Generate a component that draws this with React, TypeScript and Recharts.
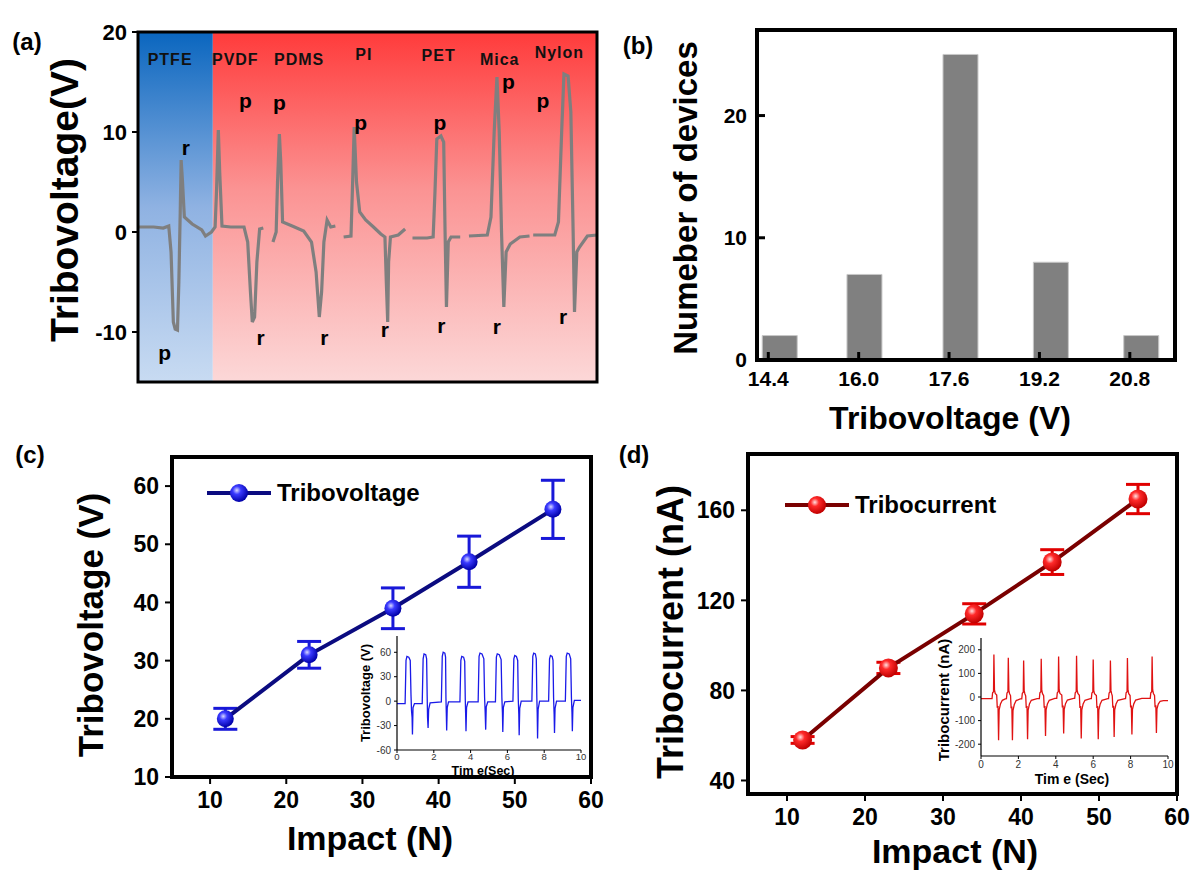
import React from 'react';
import {
  ComposedChart, LineChart, BarChart, Line, Bar, XAxis, YAxis,
  ReferenceArea, ReferenceDot, ErrorBar
} from 'recharts';

const FONT = 'Arial, "Liberation Sans", Helvetica, sans-serif';

// (a) voltage traces per material, [time, volts], null = break between materials
const traceA: [number, number | null][] = [
  [0, 0.5], [3.4, 0.5], [5.5, 0.4], [6.7, 0.6], [7.2, -2], [7.7, -9.0], [8.1, -9.7], [8.6, -9.8],
  [8.9, -5], [9.2, 2], [9.4, 7.2], [9.7, 5], [10.1, 1.5], [11.8, 0.8], [13.9, 0.2], [14.7, -0.4],
  [16.0, 0.0], [16.8, 0.5], [17.1, 4], [17.5, 10.2], [17.8, 6], [18.3, 0.6], [20.2, 0.5], [23.1, 0.5],
  [23.9, -1], [24.5, -6], [24.9, -9.0], [25.4, -8.5], [25.9, -3], [26.5, 0.3], [27.3, 0.4],
  [28.3, null],
  [29.4, -1.0], [30.1, 0], [30.4, 5], [30.8, 9.8], [31.1, 7], [31.5, 1], [33.6, 0.6], [36.1, 0.1],
  [37.8, -1], [38.8, -4], [39.5, -8.5], [40.0, -6], [40.5, -1], [41.2, 1.2], [42.0, 0.5], [43.0, 0.6],
  [43.9, null],
  [44.8, -0.5], [46.4, -0.4], [46.7, 4], [47.1, 10.5], [47.6, 5], [48.3, 2], [49.6, 1.2], [51.3, 0.5],
  [52.9, -0.2], [53.8, -0.5], [54.1, -5], [54.4, -9.0], [54.6, -3], [55.0, -0.5], [56.7, -0.3], [58.2, 0.3],
  [59.0, null],
  [59.8, -0.6], [63.0, -0.6], [64.3, -0.5], [64.7, 4], [65.1, 9.3], [66.0, 9.6], [66.6, 9.0], [66.9, 0],
  [67.2, -7.5], [67.6, -1], [68.2, -0.5], [70.2, -0.5],
  [71.2, null],
  [72.1, -0.4], [76.1, -0.3], [76.9, 1.5], [77.6, 10], [78.2, 15.5], [78.7, 10], [79.2, 0], [79.7, -7.5],
  [80.2, -2], [81.1, -1.2], [83.2, -0.5], [85.3, -0.4],
  [85.7, null],
  [86.1, -0.3], [90.8, -0.3], [91.6, 1], [92.3, 10], [92.8, 15.8], [93.7, 15.6], [94.3, 12], [94.8, 0],
  [95.1, -8], [95.6, -2], [96.2, -1.5], [97.9, -0.4], [100, -0.3],
];
const materials = ['PTFE', 'PVDF', 'PDMS', 'PI', 'PET', 'Mica', 'Nylon'];
const materialPos: [number, number][] = [[7.0, 17.3], [21.2, 17.3], [35.1, 17.3], [49.2, 17.8], [65.5, 17.7], [78.8, 17.3], [91.8, 18.0]];
const peakLabels: [string, number, number][] = [
  ['r', 10.4, 8.4], ['p', 5.8, -12.1],
  ['p', 23.4, 13.1], ['r', 26.7, -10.6],
  ['p', 30.8, 12.9], ['r', 40.6, -10.6],
  ['p', 48.5, 10.9], ['r', 53.8, -9.8],
  ['p', 65.8, 10.9], ['r', 66.1, -9.4],
  ['p', 80.7, 15.0], ['r', 78.2, -9.5],
  ['p', 88.2, 13.1], ['r', 92.6, -8.5],
];
const ptfeEnd = 16.3;

// (b) histogram
const bins = [14.6, 16.1, 17.8, 19.4, 21.0];
const deviceCounts = [2, 7, 25, 8, 2];
const binTicks = [14.4, 16.0, 17.6, 19.2, 20.8];

// (c), (d) impact sweeps
const impactN = [12, 23, 34, 44, 55];
const voltage = [20, 31, 39, 47, 56];
const voltageErr = [1.8, 2.3, 3.5, 4.4, 5.0];
const current = [58, 90, 114, 137, 165];
const currentErr = [1.5, 2.5, 4.5, 5.5, 6.5];
const impactTicks = [10, 20, 30, 40, 50, 60];

// (c) inset: voltage vs time
const insetV: [number, number][] = [
  [0, -3], [0.44, -3], [0.49, 50], [0.54, 55], [0.64, 54], [0.72, 50], [0.76, 8], [0.79, -12], [0.82, -20], [0.84, -41], [0.87, -8], [0.95, -3],
  [1.37, -3], [1.42, 52], [1.47, 58], [1.56, 57], [1.61, 52], [1.64, 6], [1.66, -20], [1.69, -33], [1.72, -10], [1.8, -2],
  [2.41, -1], [2.46, 55], [2.51, 60], [2.6, 59], [2.64, 54], [2.66, 4], [2.68, -15], [2.7, -36], [2.73, -8], [2.8, -1],
  [3.42, -1], [3.47, 50], [3.52, 55], [3.62, 54], [3.68, 49], [3.71, 3], [3.73, -15], [3.75, -37], [3.78, -8], [3.86, -1],
  [4.41, -1], [4.46, 55], [4.51, 59], [4.62, 58], [4.72, 52], [4.76, 5], [4.79, -12], [4.82, -35], [4.85, -7], [4.93, -1],
  [5.35, -1], [5.4, 54], [5.45, 58], [5.56, 57], [5.66, 51], [5.7, 4], [5.73, -14], [5.75, -38], [5.78, -8], [5.86, -1],
  [6.3, 0], [6.35, 52], [6.4, 56], [6.49, 55], [6.56, 50], [6.59, 3], [6.62, -16], [6.64, -42], [6.67, -9], [6.75, 0],
  [7.33, 0], [7.38, 55], [7.43, 59], [7.52, 58], [7.57, 52], [7.6, 4], [7.62, -14], [7.64, -46], [7.67, -10], [7.75, 0],
  [8.24, 0], [8.29, 52], [8.34, 56], [8.43, 55], [8.48, 50], [8.51, 4], [8.54, -16], [8.56, -39], [8.59, -9], [8.67, 0],
  [9.15, 0], [9.2, 55], [9.25, 59], [9.36, 58], [9.44, 52], [9.48, 4], [9.51, -14], [9.53, -37], [9.56, -8], [9.64, 1], [10, 1],
];

// (d) inset: current vs time
const insetI: [number, number][] = [
  [0, -7], [0.59, -7], [0.62, 18], [0.67, 22], [0.69, 180], [0.72, 30], [0.76, 15], [0.84, 8], [0.87, -45], [0.91, -38], [0.94, -183], [0.97, -55], [1.04, -30], [1.14, -14], [1.3, -8],
  [1.36, -7], [1.39, 17], [1.44, 22], [1.46, 166], [1.49, 28], [1.53, 14], [1.58, 6], [1.61, -48], [1.65, -40], [1.68, -183], [1.71, -58], [1.78, -32], [1.88, -15], [2.1, -8],
  [2.18, -8], [2.21, 16], [2.26, 20], [2.28, 155], [2.31, 26], [2.35, 13], [2.39, 5], [2.42, -46], [2.46, -38], [2.49, -179], [2.52, -56], [2.59, -30], [2.69, -14], [3.0, -7],
  [3.12, -7], [3.15, 18], [3.2, 22], [3.22, 162], [3.25, 28], [3.29, 14], [3.35, 6], [3.38, -45], [3.42, -38], [3.45, -165], [3.48, -55], [3.55, -30], [3.65, -14], [3.95, -6],
  [4.05, -6], [4.08, 18], [4.13, 22], [4.15, 172], [4.18, 30], [4.22, 15], [4.32, 8], [4.35, -44], [4.39, -36], [4.42, -155], [4.45, -52], [4.52, -28], [4.62, -13], [4.95, -6],
  [5.01, -6], [5.04, 18], [5.09, 22], [5.11, 175], [5.14, 30], [5.18, 15], [5.26, 7], [5.29, -46], [5.33, -38], [5.36, -176], [5.39, -55], [5.46, -30], [5.56, -14], [5.85, -7],
  [5.9, -7], [5.93, 17], [5.98, 21], [6.0, 159], [6.03, 28], [6.07, 14], [6.17, 6], [6.2, -47], [6.24, -38], [6.27, -179], [6.3, -56], [6.37, -31], [6.47, -14], [6.78, -7],
  [6.82, -7], [6.85, 17], [6.9, 21], [6.92, 155], [6.95, 27], [6.99, 13], [7.02, 5], [7.05, -45], [7.09, -37], [7.12, -169], [7.15, -54], [7.22, -30], [7.32, -14], [7.7, -7],
  [7.73, -7], [7.76, 18], [7.81, 22], [7.83, 165], [7.86, 29], [7.9, 14], [7.97, 6], [8.0, -44], [8.04, -36], [8.07, -159], [8.1, -52], [8.17, -29], [8.27, -13], [8.6, -6], [9.05, -6],
  [9.08, 18], [9.13, 22], [9.15, 172], [9.18, 30], [9.22, 15], [9.28, 7], [9.31, -43], [9.35, -35], [9.38, -152], [9.41, -50], [9.48, -30], [9.58, -18], [9.75, -15], [10, -15],
];
const timeTicks = [0, 2, 4, 6, 8, 10];

const traceData = traceA.map(([t, v]) => ({ t, v }));
const histData = bins.map((bin, i) => ({ bin, count: deviceCounts[i] }));
const voltData = impactN.map((x, i) => ({ x, y: voltage[i], err: voltageErr[i] }));
const currData = impactN.map((x, i) => ({ x, y: current[i], err: currentErr[i] }));
const insetVData = insetV.map(([t, v]) => ({ t, v }));
const insetIData = insetI.map(([t, v]) => ({ t, v }));

const bigTick = (size: number) => ({ fill: '#000', fontSize: size, fontWeight: 'bold', fontFamily: FONT });
const smallTick = { fill: '#333', fontSize: 10, fontFamily: FONT };
const blackLine = { stroke: '#000', strokeWidth: 2 };

const Title = ({ x, y, size, vertical, children }: any) => (
  <div style={{
    position: 'absolute', left: x, top: y, fontSize: size, fontWeight: 'bold', lineHeight: 1,
    whiteSpace: 'nowrap', color: '#000',
    transform: `translate(-50%, -50%)${vertical ? ' rotate(-90deg)' : ''}`,
  }}>{children}</div>
);

const LegendKey = ({ x, y, line, ball, text }: any) => (
  <div style={{ position: 'absolute', left: x, top: y, display: 'flex', alignItems: 'center', transform: 'translateY(-50%)' }}>
    <svg width={64} height={22}>
      <line x1={0} y1={11} x2={64} y2={11} stroke={line} strokeWidth={4} />
      <circle cx={32} cy={11} r={9} fill={ball} />
    </svg>
    <span style={{ fontSize: 24, fontWeight: 'bold', marginLeft: 6, color: '#000' }}>{text}</span>
  </div>
);

const ballDot = (fill: string, r: number) => (props: any) => (
  props.cx == null ? <g key={`n${props.index}`} /> :
    <circle key={`b${props.index}`} cx={props.cx} cy={props.cy} r={r} fill={fill} />
);

export default function App() {
  return (
    <div style={{ position: 'absolute', left: 0, top: 0, width: 1192, height: 873, background: '#fff', fontFamily: FONT, overflow: 'hidden' }}>
      <svg width={0} height={0} style={{ position: 'absolute' }}>
        <defs>
          <linearGradient id="gBlue" x1="0" y1="0" x2="0" y2="1">
            <stop offset="0%" stopColor="#0a66bf" />
            <stop offset="50%" stopColor="#8fb2e2" />
            <stop offset="100%" stopColor="#c8dbf2" />
          </linearGradient>
          <linearGradient id="gRed" x1="0" y1="0" x2="0" y2="1">
            <stop offset="0%" stopColor="#ff3b3b" />
            <stop offset="45%" stopColor="#fb9393" />
            <stop offset="100%" stopColor="#fcd8d8" />
          </linearGradient>
          <radialGradient id="ballBlue" cx="38%" cy="35%" r="65%">
            <stop offset="0%" stopColor="#d8d8ff" />
            <stop offset="35%" stopColor="#3a3aff" />
            <stop offset="100%" stopColor="#0000a8" />
          </radialGradient>
          <radialGradient id="ballRed" cx="38%" cy="35%" r="65%">
            <stop offset="0%" stopColor="#ffe0e0" />
            <stop offset="35%" stopColor="#ff2a2a" />
            <stop offset="100%" stopColor="#c00000" />
          </radialGradient>
        </defs>
      </svg>

      {/* (a) */}
      <div style={{ position: 'absolute', left: 0, top: 0 }}>
        <ComposedChart width={620} height={400} data={traceData} margin={{ top: 32, right: 23, bottom: 18, left: 0 }}>
          <XAxis type="number" dataKey="t" domain={[0, 100]} hide />
          <YAxis type="number" domain={[-15, 20]} ticks={[-10, 0, 10, 20]} width={138}
            axisLine={false} tickLine={blackLine} tickSize={6} tickMargin={5} tick={bigTick(22)} />
          <ReferenceArea x1={0} x2={ptfeEnd} y1={-15} y2={20} fill="url(#gBlue)" fillOpacity={1} stroke="none" zIndex={-10} />
          <ReferenceArea x1={ptfeEnd} x2={100} y1={-15} y2={20} fill="url(#gRed)" fillOpacity={1} stroke="none" zIndex={-10} />
          <Line dataKey="v" type="linear" stroke="#7f7f7f" strokeWidth={3.2} dot={false} connectNulls={false} isAnimationActive={false} />
          {materials.map((m, i) => (
            <ReferenceDot key={m} x={materialPos[i][0]} y={materialPos[i][1]} r={0} fill="none" stroke="none"
              label={{ value: m, position: 'center', fill: '#111', fontSize: 16, fontWeight: 'bold', fontFamily: FONT, letterSpacing: 1 }} />
          ))}
          {peakLabels.map(([s, t, v], i) => (
            <ReferenceDot key={`pl${i}`} x={t} y={v} r={0} fill="none" stroke="none"
              label={{ value: s, position: 'center', fill: '#000', fontSize: 21, fontWeight: 'bold', fontFamily: FONT }} />
          ))}
          <ReferenceArea x1={0} x2={100} y1={-15} y2={20} fill="none" stroke="#000" strokeWidth={3} zIndex={1900} />
        </ComposedChart>
      </div>
      <Title x={27} y={42} size={24}>(a)</Title>
      <Title x={64} y={200} size={39} vertical>Tribovoltage(V)</Title>

      {/* (b) */}
      <div style={{ position: 'absolute', left: 600, top: 0 }}>
        <BarChart width={592} height={440} data={histData} margin={{ top: 30, right: 17, bottom: 40, left: 0 }}>
          <XAxis type="number" dataKey="bin" domain={[14.2, 21.6]} ticks={binTicks} height={40}
            tickFormatter={(v: number) => v.toFixed(1)} axisLine={false} tickLine={{ stroke: '#000', strokeWidth: 3 }}
            tickSize={-8} tickMargin={19} tick={bigTick(21)} allowDataOverflow />
          <YAxis type="number" domain={[0, 27]} ticks={[0, 10, 20]} width={157}
            axisLine={false} tickLine={{ stroke: '#000', strokeWidth: 3 }} tickSize={-8} tickMargin={18} tick={bigTick(21)} />
          <Bar dataKey="count" fill="#808080" stroke="#c8c8c8" strokeWidth={1} barSize={35} isAnimationActive={false} />
          <ReferenceArea x1={14.2} x2={21.6} y1={0} y2={27} fill="none" stroke="#000" strokeWidth={4} zIndex={1900} />
        </BarChart>
      </div>
      <Title x={638} y={46} size={24}>(b)</Title>
      <Title x={685} y={198} size={33} vertical>Numeber of devices</Title>
      <Title x={950} y={418} size={32}>Tribovoltage (V)</Title>

      {/* (c) */}
      <div style={{ position: 'absolute', left: 0, top: 440 }}>
        <ComposedChart width={620} height={433} data={voltData} margin={{ top: 17, right: 29, bottom: 56, left: 0 }}>
          <XAxis type="number" dataKey="x" domain={[5, 60]} ticks={impactTicks} height={40}
            axisLine={false} tickLine={blackLine} tickSize={7} tickMargin={8} tick={bigTick(23)} />
          <YAxis type="number" domain={[10, 65]} ticks={[10, 20, 30, 40, 50, 60]} width={172}
            axisLine={false} tickLine={blackLine} tickSize={7} tickMargin={6} tick={bigTick(23)} />
          <Line dataKey="y" type="linear" stroke="#0b0b80" strokeWidth={4} isAnimationActive={false}
            dot={ballDot('url(#ballBlue)', 8.5)} activeDot={false}>
            <ErrorBar dataKey="err" direction="y" width={12} stroke="#1818d8" strokeWidth={3} />
          </Line>
          <ReferenceArea x1={5} x2={60} y1={10} y2={65} fill="none" stroke="#000" strokeWidth={4} zIndex={1900} />
        </ComposedChart>
      </div>
      <LegendKey x={207} y={493} line="#0b0b80" ball="url(#ballBlue)" text="Tribovoltage" />
      <Title x={30} y={455} size={24}>(c)</Title>
      <Title x={90} y={625} size={35} vertical>Tribovoltage (V)</Title>
      <Title x={370} y={838} size={34}>Impact (N)</Title>

      <div style={{ position: 'absolute', left: 330, top: 600 }}>
        <LineChart width={270} height={200} data={insetVData} margin={{ top: 36, right: 19, bottom: 20, left: 0 }}>
          <XAxis type="number" dataKey="t" domain={[0, 10]} ticks={timeTicks} height={30}
            axisLine={{ stroke: '#000', strokeWidth: 1.2 }} tickLine={{ stroke: '#000' }} tickSize={3} tickMargin={0}
            tick={{ ...smallTick, fontSize: 9.5 }} />
          <YAxis type="number" domain={[-60, 80]} ticks={[-60, -30, 0, 30, 60]} width={67}
            axisLine={{ stroke: '#000', strokeWidth: 1.2 }} tickLine={{ stroke: '#000' }} tickSize={3} tickMargin={3} tick={smallTick} />
          <Line dataKey="v" type="linear" stroke="#1a1ae8" strokeWidth={1.3} dot={false} isAnimationActive={false} />
        </LineChart>
      </div>
      <Title x={365} y={693} size={13} vertical>Tribovoltage (V)</Title>
      <Title x={483} y={771} size={12.5}>Tim e(Sec)</Title>

      {/* (d) */}
      <div style={{ position: 'absolute', left: 600, top: 440 }}>
        <ComposedChart width={592} height={433} data={currData} margin={{ top: 14, right: 15, bottom: 39, left: 0 }}>
          <XAxis type="number" dataKey="x" domain={[5, 60]} ticks={impactTicks} height={40}
            axisLine={false} tickLine={blackLine} tickSize={7} tickMargin={8} tick={bigTick(23)} />
          <YAxis type="number" domain={[34, 185]} ticks={[40, 80, 120, 160]} width={148}
            axisLine={false} tickLine={blackLine} tickSize={7} tickMargin={6} tick={bigTick(23)} />
          <Line dataKey="y" type="linear" stroke="#7a0000" strokeWidth={4} isAnimationActive={false}
            dot={ballDot('url(#ballRed)', 9.5)} activeDot={false}>
            <ErrorBar dataKey="err" direction="y" width={12} stroke="#e00000" strokeWidth={3} />
          </Line>
          <ReferenceArea x1={5} x2={60} y1={34} y2={185} fill="none" stroke="#000" strokeWidth={4} zIndex={1900} />
        </ComposedChart>
      </div>
      <LegendKey x={785} y={505} line="#7a0000" ball="url(#ballRed)" text="Tribocurrent" />
      <Title x={634} y={455} size={24}>(d)</Title>
      <Title x={671} y={632} size={36} vertical>Tribocurrent (nA)</Title>
      <Title x={955} y={851} size={34}>Impact (N)</Title>

      <div style={{ position: 'absolute', left: 900, top: 600 }}>
        <LineChart width={292} height={200} data={insetIData} margin={{ top: 38, right: 24, bottom: 18, left: 0 }}>
          <XAxis type="number" dataKey="t" domain={[0, 10]} ticks={timeTicks} height={26}
            axisLine={{ stroke: '#000', strokeWidth: 1.2 }} tickLine={{ stroke: '#000' }} tickSize={3} tickMargin={2} tick={smallTick} />
          <YAxis type="number" domain={[-250, 250]} ticks={[-200, -100, 0, 100, 200]} width={81}
            axisLine={{ stroke: '#000', strokeWidth: 1.2 }} tickLine={{ stroke: '#000' }} tickSize={3} tickMargin={3} tick={smallTick} />
          <Line dataKey="v" type="linear" stroke="#e01212" strokeWidth={1.3} dot={false} isAnimationActive={false} />
        </LineChart>
      </div>
      <Title x={943} y={700} size={15} vertical>Tribocurrent (nA)</Title>
      <Title x={1072} y={779} size={14}>Tim e (Sec)</Title>
    </div>
  );
}
